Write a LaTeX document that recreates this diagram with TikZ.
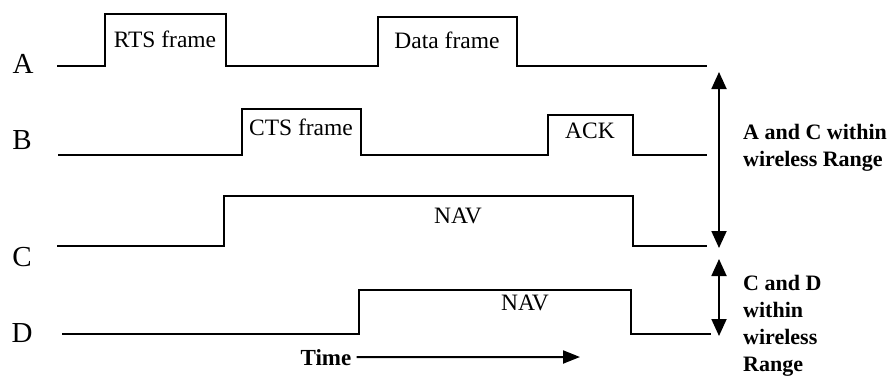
\documentclass[tikz,border=0pt]{standalone}
\usepackage{fontspec}
\setmainfont{Liberation Serif}
\usetikzlibrary{positioning, arrows.meta}

\tikzset{
    signal/.style={line width=2.2pt, line join=miter},
    frametext/.style={font=\fontsize{23.5}{27}\selectfont, inner sep=0pt, anchor=base},
    station/.style={font=\fontsize{29}{33}\selectfont, inner sep=0pt},
    rangetext/.style={
        font=\fontsize{22}{27}\selectfont\bfseries,
        align=left,       % <-- lines start at the same x
        inner sep=0pt,
        anchor=north west
    },
    rangearrow/.style={line width=1.8pt, {Triangle[length=17pt,width=15pt]}-{Triangle[length=17pt,width=15pt]}},
    timearrow/.style={line width=2pt, -{Triangle[length=17pt,width=13pt]}},
}

\begin{document}
\begin{tikzpicture}[x=1pt, y=-1pt]
    \useasboundingbox (0,0) rectangle (891,376);

    % stations
    \node[station] (A) at (23,64) {A};
    \node[station] (B) at (22,140) {B};
    \node[station] (C) at (22,257) {C};
    \node[station] (D) at (22,333) {D};

    % ends of the lines
    \coordinate (Aend) at (707,66);
    \coordinate (Bend) at (707,155);
    \coordinate (Cend) at (707,246);
    \coordinate (Dend) at (711,334);

    % frames on each line
    \draw[signal] (57,66) -- (105,66) -- (105,14) -- (226,14) -- (226,66)
        -- (378,66) -- (378,17) -- (517,17) -- (517,66) -- (Aend);
    \draw[signal] (58,155) -- (242,155) -- (242,109) -- (361,109) -- (361,155)
        -- (548,155) -- (548,115) -- (633,115) -- (633,155) -- (Bend);
    \draw[signal] (57,246) -- (224,246) -- (224,196) -- (633,196) -- (633,246) -- (Cend);
    \draw[signal] (62,334) -- (359,334) -- (359,290) -- (631,290) -- (631,334) -- (Dend);

    \node[frametext] (rts) at (165,47) {RTS frame};
    \node[frametext] (data) at (447,48) {Data frame};
    \node[frametext] (cts) at (301,135) {CTS frame};
    \node[frametext] (ack) at (590,138) {ACK};
    \node[frametext] (navC) at (458,223) {NAV};
    \node[frametext] (navD) at (525,310) {NAV};

    % time axis
    \node[frametext, font=\fontsize{23}{27}\selectfont\bfseries] (time) at (326,365) {Time};
    \coordinate (timeEnd) at (580,357);
    \draw[timearrow] ([xshift=5pt]time.east) -- (timeEnd);

    % wireless ranges
    \coordinate (acTop) at (719,72);
    \coordinate (acBot) at (719,248);
    \coordinate (cdTop) at (719,259);
    \coordinate (cdBot) at (719,336);
    \draw[rangearrow] (acTop) -- (acBot);
    \draw[rangearrow] (cdTop) -- (cdBot);

    \node[rangetext] (acRange) at (743,124) {A and C within\\wireless Range};
    \node[rangetext] (cdRange) at (743,275) {C and D\\within\\wireless\\Range};
\end{tikzpicture}
\end{document}
